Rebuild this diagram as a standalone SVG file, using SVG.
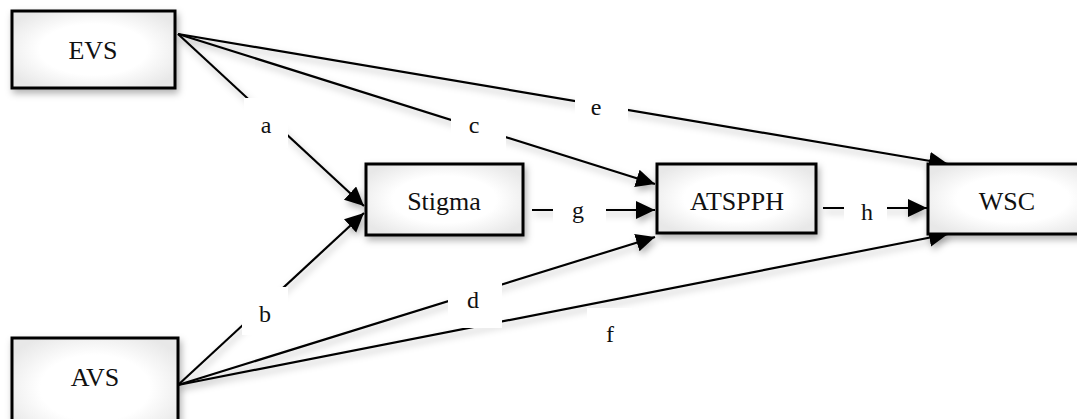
<svg xmlns="http://www.w3.org/2000/svg" width="1077" height="419" viewBox="0 0 1077 419">
<defs>
<style>
.box{fill:url(#bg);stroke:#000;stroke-width:3;filter:url(#sh)}
text{font-family:'Liberation Serif','Times New Roman',serif;fill:#111;text-anchor:middle}
.lbl{font-size:24px}
.node{font-size:26px}
.ln{stroke:#000;stroke-width:2.2;fill:none;marker-end:url(#ah)}
.lb{fill:#fff;stroke:none}
</style>
<radialGradient id="bg" cx="0.5" cy="0.5" r="0.6">
<stop offset="0.55" stop-color="#fff"/>
<stop offset="1" stop-color="#e8e8e8"/>
</radialGradient>
<filter id="sh" x="-20%" y="-30%" width="140%" height="170%">
<feDropShadow dx="2" dy="4" stdDeviation="3.5" flood-color="#000" flood-opacity="0.3"/>
</filter>
<marker id="ah" markerUnits="userSpaceOnUse" markerWidth="22" markerHeight="20" refX="19" refY="9" orient="auto">
<path d="M0,0 L19,9 L0,18 Z" fill="#000"/>
</marker>
</defs>
<g id="connectors" filter="url(#sh)">
<line class="ln" x1="178" y1="34" x2="364" y2="206"/>
<line class="ln" x1="178" y1="385" x2="364" y2="213"/>
<line class="ln" x1="178" y1="34" x2="655" y2="184"/>
<line class="ln" x1="178" y1="385" x2="655" y2="237"/>
<line class="ln" x1="178" y1="34" x2="948" y2="164"/>
<line class="ln" x1="178" y1="385" x2="948" y2="234"/>
<line class="ln" x1="532" y1="210" x2="655" y2="210"/>
<line class="ln" x1="823" y1="208" x2="927" y2="208"/>
</g>
<g id="node-evs"><rect class="box" x="12" y="11" width="163" height="77"/><text class="node" font-family="Liberation Serif, serif" x="93" y="59">EVS</text></g>
<g id="node-avs"><rect class="box" x="12" y="338" width="166" height="100"/><text class="node" font-family="Liberation Serif, serif" x="95" y="386">AVS</text></g>
<g id="node-stigma"><rect class="box" x="366" y="164" width="157" height="71"/><text class="node" font-family="Liberation Serif, serif" x="444" y="210">Stigma</text></g>
<g id="node-atspph"><rect class="box" x="657" y="164" width="159" height="69"/><text class="node" font-family="Liberation Serif, serif" x="737" y="210">ATSPPH</text></g>
<g id="node-wsc"><rect class="box" x="928" y="164" width="170" height="70"/><text class="node" font-family="Liberation Serif, serif" x="1007" y="210">WSC</text></g>
<g id="labels" font-family="Liberation Serif, serif">
<rect class="lb" x="244" y="98" width="44" height="50"/><text class="lbl" x="266" y="133">a</text>
<rect class="lb" x="242" y="287" width="46" height="48"/><text class="lbl" x="265" y="322">b</text>
<rect class="lb" x="451" y="100" width="55" height="50"/><text class="lbl" x="474" y="133">c</text>
<rect class="lb" x="448" y="280" width="54" height="48"/><text class="lbl" x="473" y="308">d</text>
<rect class="lb" x="575" y="80" width="53" height="44"/><text class="lbl" x="596" y="115">e</text>
<rect class="lb" x="587" y="308" width="45" height="47"/><text class="lbl" x="610" y="342">f</text>
<rect class="lb" x="553" y="188" width="53" height="45"/><text class="lbl" x="578" y="218">g</text>
<rect class="lb" x="844" y="188" width="43" height="45"/><text class="lbl" x="867" y="220">h</text>
</g>
</svg>
